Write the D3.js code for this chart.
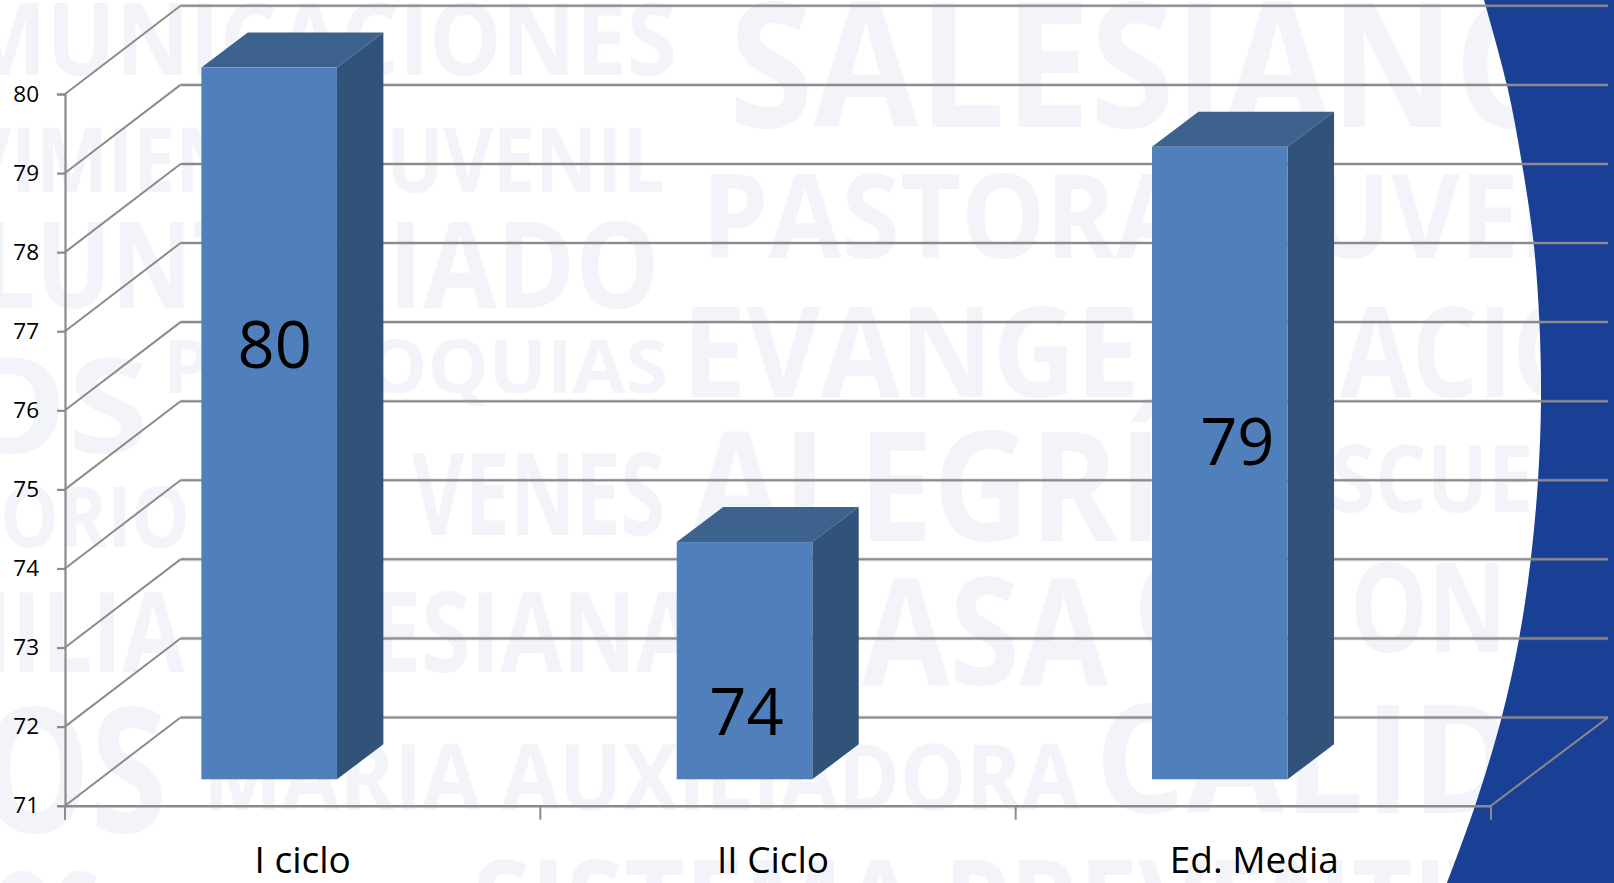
<!DOCTYPE html>
<html><head><meta charset="utf-8">
<script src="https://cdn.jsdelivr.net/npm/d3@7/dist/d3.min.js"></script>
<style>html,body{margin:0;padding:0;background:#fff;overflow:hidden}svg{display:block}</style>
</head><body><svg id="c" width="1614" height="883"></svg>
<script>
// ---- chart data ----
const categories = ["I ciclo", "II Ciclo", "Ed. Media"];
const values = [80, 74, 79];
const yTicks = [71, 72, 73, 74, 75, 76, 77, 78, 79, 80];
// ---- background decoration: watermark words ----
const wmWords = ["COMUNICACIONES","SALESIANOS","MOVIMIENTO JUVENIL","PASTORAL JUVENIL","VOLUNTAR","IADO","PARROQUIAS","EVANGE","ACION","OS","ORATORIO","VENES","ALEGRÍA","ESCUELA","FAMILIA SALESIANA","CASA","C","ON","MARIA AUXILIADORA","OS","CALIDAD","SISTEMA PREVENTIVO","OS"];
const wmBoxes = [[-170,677,3,75],[729,1660,2,127],[-170,665,128,192],[702,1700,175,258],[-165,385,222,308],[388,660,222,308],[163,668,340,393],[682,1140,307,397],[1340,1680,307,397],[-50,149,360,453],[-200,190,487,547],[412,665,453,535],[690,1255,432,541],[1285,1635,445,512],[-185,698,593,672],[780,1108,578,685],[1134,1200,563,652],[1350,1507,563,652],[203,1079,745,810],[-20,167,707,832],[1095,1720,705,813],[473,1600,860,945],[-10,100,873,960]];
const curve = [[1484,0],[1507,85],[1522,164],[1533.6,243],[1539.4,322],[1541,401],[1538,480],[1530.7,560],[1519,639],[1501.5,718],[1475,806],[1447,883]];
// ---- manual placement of value labels (px from bar middle) ----
const labelDx = [39, 35.5, 51];
const labelDy = [-78, 51, -21];
const catNudge = [0, -5, 1];

const svg = d3.select("#c");
const GRID = "#8b8b8b";
const wallDx = 115.5, wallDy = -88.2;
const barDx = 46.4, barDy = -35, barInsetY = 26.4, barOffset = 33.5;

const x = d3.scaleBand().domain(categories).range([65, 1491]);
const y = d3.scaleLinear().domain([71, 80]).range([805.7, 94]);
const barW = 135.6;

// watermark
const wm = svg.append("g").attr("font-family","'Open Sans'").attr("font-weight",700).attr("fill","#f3f4fa");
wm.selectAll("text").data(wmWords).join("text")
  .attr("x",(d,i)=>wmBoxes[i][0])
  .attr("y",(d,i)=>wmBoxes[i][3])
  .attr("font-size",(d,i)=>(wmBoxes[i][3]-wmBoxes[i][2])/0.714)
  .attr("textLength",(d,i)=>wmBoxes[i][1]-wmBoxes[i][0])
  .attr("lengthAdjust","spacingAndGlyphs")
  .text(d=>d);

// blue band
const edge = d3.line().curve(d3.curveCatmullRom)(curve);
svg.append("path").attr("d", edge + "L1614,883L1614,0Z").attr("fill","#1a4096");

// walls and floor
const grid = svg.append("g").attr("stroke",GRID).attr("fill","none");
grid.selectAll("line.halo").data(yTicks).join("line").attr("class","halo")
  .attr("x1",x.range()[0]+wallDx).attr("x2",x.range()[1]+wallDx+1.5)
  .attr("y1",d=>y(d)+wallDy).attr("y2",d=>y(d)+wallDy).attr("stroke-width",3.6).attr("stroke-opacity",0.3);
grid.selectAll("line.back").data(yTicks).join("line").attr("class","back")
  .attr("x1",x.range()[0]+wallDx).attr("x2",x.range()[1]+wallDx+1.5)
  .attr("y1",d=>y(d)+wallDy).attr("y2",d=>y(d)+wallDy).attr("stroke-width",2);
grid.selectAll("line.wall").data(yTicks).join("line").attr("class","wall")
  .attr("x1",x.range()[0]).attr("x2",x.range()[0]+wallDx)
  .attr("y1",d=>y(d)).attr("y2",d=>y(d)+wallDy).attr("stroke-width",2);
grid.append("line").attr("x1",x.range()[1]).attr("x2",x.range()[1]+wallDx+1.5)
  .attr("y1",y(71)).attr("y2",y(71)+wallDy).attr("stroke-width",2);

// bars
const bars = svg.selectAll("g.bar").data(values).join("g").attr("class","bar");
const bx = (d,i)=>x(categories[i])+x.bandwidth()/2-barOffset-barW/2;
const top_ = d=>y(d)-barInsetY;
const bot = y(71)-barInsetY;
bars.append("path").attr("fill","#3e628e")
  .attr("d",(d,i)=>{const a=bx(d,i),t=top_(d);return `M${a},${t}l${barDx},${barDy}h${barW}l${-barDx},${-barDy}Z`;});
bars.append("path").attr("fill","#325379")
  .attr("d",(d,i)=>{const a=bx(d,i)+barW,t=top_(d);return `M${a},${t}l${barDx},${barDy}V${bot+barDy}l${-barDx},${-barDy}Z`;});
bars.append("rect").attr("fill","#4f80bc")
  .attr("x",bx).attr("y",top_).attr("width",barW).attr("height",d=>bot-top_(d));
bars.append("text").attr("font-family","'Open Sans'").attr("font-size",65).attr("fill","#000")
  .attr("text-anchor","middle")
  .attr("x",(d,i)=>bx(d,i)+barW/2+labelDx[i]-33.5)
  .attr("y",(d,i)=>(top_(d)+bot)/2+labelDy[i]+23)
  .text(d=>d);

// axes
const yAxis = d3.axisLeft(y).tickValues(yTicks).tickSize(8).tickPadding(18).tickFormat(d3.format("d"));
const gy = svg.append("g").attr("transform","translate(65,0)").call(yAxis);
gy.selectAll("path,line").attr("stroke",GRID).attr("stroke-width",2.2);
gy.selectAll("text").attr("font-family","'Open Sans'").attr("font-size",22.5).attr("fill","#000");

const xAxis = d3.axisBottom(x).tickSize(0).tickPadding(41);
const gx = svg.append("g").attr("transform",`translate(0,${y(71)})`).call(xAxis);
gx.selectAll("path").attr("stroke",GRID).attr("stroke-width",2.6);
gx.selectAll("text").attr("font-family","'Open Sans'").attr("font-size",37).attr("fill","#000")
  .attr("dx",(d,i)=>catNudge[i]);
const edges = categories.map(c=>x(c)).concat(x.range()[1]);
gx.selectAll("line.edge").data(edges).join("line").attr("class","edge")
  .attr("x1",d=>d).attr("x2",d=>d).attr("y1",0).attr("y2",14).attr("stroke",GRID).attr("stroke-width",2);
</script></body></html>
